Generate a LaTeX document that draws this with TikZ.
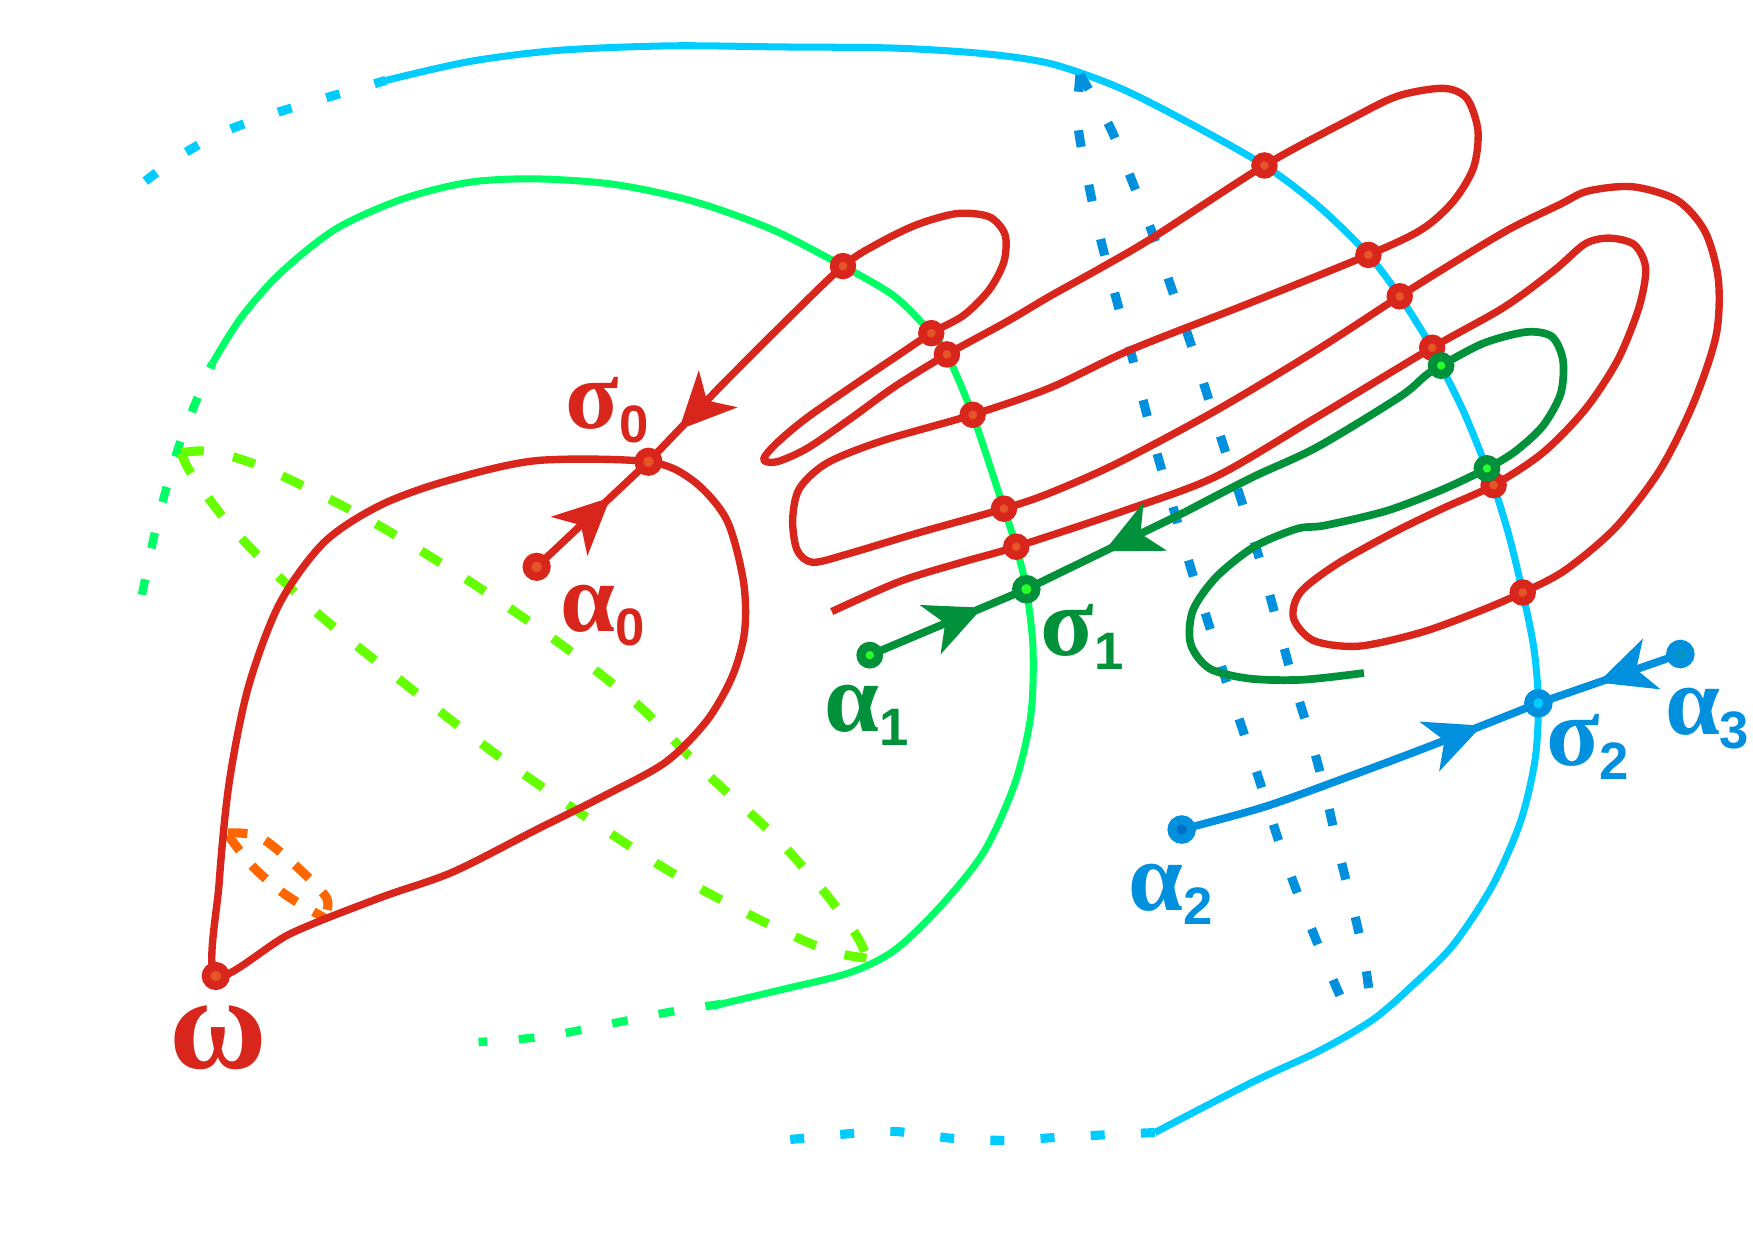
\documentclass[tikz,border=0pt]{standalone}
\usepackage{fontspec}
\newfontfamily\grkfont{Liberation Serif}
\newfontfamily\idxfont{Liberation Sans}
\usetikzlibrary{arrows.meta, decorations.markings}

\definecolor{mred}{RGB}{217,38,28}
\definecolor{mredc}{RGB}{230,85,40}
\definecolor{lgreen}{RGB}{0,255,102}
\definecolor{ygreen}{RGB}{102,255,0}
\definecolor{dgreen}{RGB}{0,145,58}
\definecolor{bgreen}{RGB}{40,255,40}
\definecolor{cyanl}{RGB}{0,204,255}
\definecolor{mblue}{RGB}{0,144,221}
\definecolor{dblue}{RGB}{0,110,200}
\definecolor{tblue}{RGB}{0,150,190}
\definecolor{morange}{RGB}{255,102,0}

\newcommand{\glab}[2]{{\grkfont\bfseries #1}\raisebox{-4pt}{\idxfont\bfseries\fontsize{15}{15}\selectfont #2}}

\begin{document}
\begin{tikzpicture}[
  x=0.01118cm, y=-0.01118cm,
  redline/.style={mred, line width=2.1pt, line join=round},
  greenline/.style={lgreen, line width=2pt},
  greendash/.style={lgreen, line width=2.4pt, dash pattern=on 4.5pt off 9pt},
  lensdash/.style={ygreen, line width=2.6pt, dash pattern=on 6.5pt off 8.5pt},
  orangedash/.style={morange, line width=2.6pt, dash pattern=on 5.5pt off 5.5pt},
  cyanline/.style={cyanl, line width=2pt},
  cyandash/.style={cyanl, line width=2.6pt, dash pattern=on 4pt off 10.3pt},
  bluedot/.style={mblue, line width=2.6pt, dash pattern=on 4.8pt off 11pt},
  dgline/.style={dgreen, line width=2.2pt},
  bline/.style={mblue, line width=2.2pt},
  midarrow/.style={postaction={decorate}, decoration={markings,
      mark=at position #1 with {\arrow{Stealth[length=16pt, width=15pt, inset=4.5pt]}}}},
  rdot/.style={circle, fill=mredc, draw=mred, line width=2.5pt, minimum size=5pt, inner sep=0pt},
  gdot/.style={circle, fill=bgreen, draw=dgreen, line width=2.6pt, minimum size=5pt, inner sep=0pt},
  bdot/.style={circle, draw=mblue, line width=2.6pt, minimum size=5.5pt, inner sep=0pt},
  lbl/.style={inner sep=0pt, font=\fontsize{28}{28}\selectfont}
]
  \useasboundingbox (0,0) rectangle (1568,1109);

  % fixed points
  \coordinate (om) at (193,873);
  \coordinate (a0) at (480,507);
  \coordinate (sig0) at (580,413);
  \coordinate (a1) at (778,586);
  \coordinate (sig1) at (918,527);
  \coordinate (a2) at (1057,742);
  \coordinate (sig2) at (1376,629);
  \coordinate (a3) at (1503,585);
  \coordinate (rin) at (645,345);
  \coordinate (gin) at (1060,458);

  % crossings on the light green curve
  \coordinate (g1) at (754,238);
  \coordinate (g2) at (833,298);
  \coordinate (g3) at (847,317);
  \coordinate (g4) at (870,371);
  \coordinate (g5) at (898,455);
  \coordinate (g6) at (909,489);

  % crossings on the cyan curve
  \coordinate (c1) at (1131,148);
  \coordinate (c2) at (1224,228);
  \coordinate (c3) at (1252,265);
  \coordinate (c4) at (1281,311);
  \coordinate (c5) at (1336,434);
  \coordinate (c6) at (1362,530);
  \coordinate (k1) at (1289,327);
  \coordinate (k2) at (1330,419);

  % cyan curve
  \draw[cyandash] plot[smooth] coordinates {(130,162) (160,140) (200,118) (250,100) (300,85) (345,72)};
  \draw[cyanline] plot[smooth] coordinates {(345,72) (420,55) (500,45) (600,41) (700,42) (800,43)
    (880,48) (940,57) (1000,78) (1060,108) (c1) (1180,185) (c2) (c3) (c4) (k1) (1310,370) (k2) (c5)
    (1350,480) (c6) (1372,580) (sig2) (1373,680) (1360,735) (1335,792) (1300,845) (1265,880)
    (1228,912) (1180,940) (1120,968) (1033,1013)};
  \draw[cyandash] plot[smooth] coordinates {(1033,1013) (990,1015) (950,1017) (900,1020) (850,1018)
    (800,1012) (760,1014) (700,1020)};

  % blue dotted lines
  \draw[bluedot] plot[smooth] coordinates {(966,67) (993,114) (1013,163) (1032,212) (1049,261)
    (1066,310) (1082,360) (1098,410) (1114,459) (1129,508) (1143,559) (1157,610) (1172,659)
    (1186,711) (1197,760) (1210,811) (1221,861) (1228,916)};
  \draw[bluedot] plot[smooth] coordinates {(966,67) (964,110) (973,161) (984,212) (997,262)
    (1011,313) (1024,364) (1037,413) (1052,463) (1066,511) (1082,561) (1097,610) (1114,660)
    (1130,709) (1146,759) (1164,808) (1184,857) (1205,905) (1212,917)};

  % light green curve
  \draw[greendash] plot[smooth] coordinates {(127,532) (140,470) (158,405) (175,360) (190,325)};
  \draw[greenline] plot[smooth] coordinates {(190,325) (215,285) (250,245) (300,205) (360,178)
    (420,163) (480,160) (550,165) (620,180) (690,205) (g1) (800,265) (g2) (g3) (g4) (g5) (g6)
    (sig1) (924,580) (922,640) (908,700) (880,762) (840,812) (800,850) (760,870) (700,885) (645,898)};
  \draw[greendash] plot[smooth] coordinates {(645,898) (600,905) (550,915) (500,925) (460,930) (428,932)};

  % dashed lenses
  \draw[lensdash] plot[smooth] coordinates {(162,405) (190,404) (240,420) (330,465) (420,520)
    (500,575) (570,630) (630,690) (690,745) (735,795) (765,835) (775,855)};
  \draw[lensdash] plot[smooth] coordinates {(162,405) (172,425) (210,475) (280,545) (360,610)
    (440,672) (520,728) (600,780) (680,823) (740,850) (775,857)};
  \draw[orangedash] plot[smooth] coordinates {(204,745) (231,748) (262,772) (292,803) (290,821)};
  \draw[orangedash] plot[smooth] coordinates {(204,747) (226,775) (255,800) (290,821)};

  % red loop through omega
  \draw[redline] plot[smooth cycle] coordinates {(om) (196,790) (205,700) (222,615) (250,540)
    (290,485) (340,452) (400,430) (480,412) (sig0) (620,430) (650,465) (665,520) (666,565)
    (655,605) (632,645) (595,682) (540,712) (480,742) (405,780) (340,803) (260,835)};

  % red manifold of sigma0
  \draw[redline, midarrow=0.66] (a0) -- (sig0);
  \draw[redline, midarrow=0.58] (rin) -- (sig0);
  \draw[redline] plot[smooth] coordinates {(rin) (700,290) (g1) (785,218) (820,201) (856,191)
    (885,194) (899,210) (898,234) (885,259) (862,282) (g2) (800,320) (760,347) (720,375)
    (694,397) (683,411) (695,413) (722,401) (760,375) (800,346) (g3) (900,288) (939,265)
    (984,240) (1032,212) (c1) (1207,107) (1250,86) (1291,79) (1312,88) (1322,117) (1318,150)
    (1300,180) (1272,205) (c2) (1118,271) (1011,313) (939,347) (g4) (790,394) (740,414)
    (715,437) (709,465) (713,492) (727,503) (760,495) (820,477) (g5) (939,441) (1000,414)
    (1088,367) (1178,313) (c3) (1300,235) (1350,205) (1395,183) (1420,171) (1460,167)
    (1500,179) (1525,207) (1537,250) (1535,300) (1515,360) (1485,420) (1445,472) (1400,510)
    (c6) (1320,548) (1270,566) (1215,578) (1175,573) (1157,553) (1163,530) (1195,505)
    (1245,477) (1290,455) (c5) (1380,405) (1418,366) (1447,322) (1466,275) (1472,240)
    (1462,219) (1440,213) (1418,218) (1390,242) (1345,275) (c4) (1178,373) (1088,426)
    (1008,456) (g6) (860,503) (805,520) (744,547)};

  % dark green manifold of sigma1
  \draw[dgline, midarrow=0.72] (a1) -- (sig1);
  \draw[dgline, midarrow=0.51] (gin) -- (sig1);
  \draw[dgline] plot[smooth] coordinates {(gin) (1120,427) (1178,400) (1252,355) (1275,336)
    (k1) (1327,307) (1365,297) (1388,301) (1398,322) (1396,352) (1380,381) (1355,404) (k2)
    (1290,438) (1240,457) (1185,470) (1160,473) (1122,489) (1088,516) (1067,546) (1065,576)
    (1082,598) (1118,607) (1165,608) (1220,602)};

  % blue manifold of sigma2
  \draw[bline, midarrow=0.84] plot[smooth] coordinates {(a2) (1130,722) (1200,697) (1280,667) (sig2)};
  \draw[bline, midarrow=0.58] (a3) -- (sig2);

  % dots
  \foreach \p in {g1,g2,g3,g4,g5,g6,c1,c2,c3,c4,c5,c6}
    \node[rdot] (\p dot) at (\p) {};
  \node[rdot, minimum size=5.5pt] (omdot) at (om) {};
  \node[rdot, minimum size=5.5pt] (a0dot) at (a0) {};
  \node[rdot, minimum size=5.5pt] (sig0dot) at (sig0) {};
  \node[gdot] (k1dot) at (k1) {};
  \node[gdot] (k2dot) at (k2) {};
  \node[gdot] (a1dot) at (a1) {};
  \node[gdot, minimum size=5.5pt] (sig1dot) at (sig1) {};
  \node[bdot, fill=cyanl] (sig2dot) at (sig2) {};
  \node[bdot, fill=dblue] (a2dot) at (a2) {};
  \node[bdot, fill=tblue] (a3dot) at (a3) {};

  % labels
  \node[lbl, mred] (lsig0) at (543,367) {\glab{σ}{0}};
  \node[lbl, mred] (la0) at (539,551) {\glab{α}{0}};
  \node[lbl, mred, font=\fontsize{38}{38}\selectfont] (lom) at (195,928) {{\grkfont\bfseries ω}};
  \node[lbl, dgreen] (la1) at (775,640) {\glab{α}{1}};
  \node[lbl, dgreen] (lsig1) at (968,570) {\glab{σ}{1}};
  \node[lbl, mblue] (lsig2) at (1420,668) {\glab{σ}{2}};
  \node[lbl, mblue] (la2) at (1047,800) {\glab{α}{2}};
  \node[lbl, mblue] (la3) at (1527,643) {\glab{α}{3}};
\end{tikzpicture}
\end{document}
